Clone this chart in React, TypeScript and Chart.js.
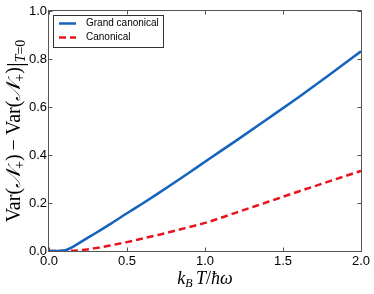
import React, { useEffect, useRef } from "react";
import { Chart, registerables } from "chart.js";

Chart.register(...registerables);

const temperatures = [0, 0.05, 0.1, 0.15, 0.2, 0.3, 0.4, 0.5, 0.6, 0.7, 0.8, 0.9, 1.0, 1.2, 1.4, 1.6, 1.8, 2.0];
const grandCanonical = [0, 0, 0.002, 0.016, 0.036, 0.075, 0.115, 0.157, 0.198, 0.24, 0.283, 0.327, 0.372, 0.46, 0.55, 0.641, 0.735, 0.832];
const canonical = [0, 0, 0, 0.001, 0.003, 0.012, 0.024, 0.037, 0.052, 0.067, 0.083, 0.1, 0.117, 0.16, 0.204, 0.248, 0.291, 0.334];
const seriesLabels = ["Grand canonical", "Canonical"];
const seriesColors = ["#1464be", "#e8141e"];
const xTicks = [0, 0.5, 1.0, 1.5, 2.0];
const yTicks = [0, 0.2, 0.4, 0.6, 0.8, 1.0];

const SERIF = "'Liberation Serif', 'DejaVu Serif', 'DejaVu Sans', serif";
const SANS = "'Liberation Sans', Arial, sans-serif";

type Piece = { t: string; font: string; dy: number };

function drawPieces(ctx: CanvasRenderingContext2D, pieces: Piece[], cx: number, baseY: number) {
  let total = 0;
  const widths = pieces.map((p) => {
    ctx.font = p.font;
    const w = ctx.measureText(p.t).width;
    total += w;
    return w;
  });
  let x = cx - total / 2;
  ctx.textBaseline = "alphabetic";
  ctx.textAlign = "left";
  pieces.forEach((p, i) => {
    ctx.font = p.font;
    ctx.fillText(p.t, x, baseY + p.dy);
    x += widths[i];
  });
}

const decor = {
  id: "decor",
  afterDraw(chart: any) {
    const { ctx, chartArea: a, scales } = chart;
    const L = Math.round(a.left) - 0.5;
    const R = Math.round(a.right) + 0.5;
    const T = Math.round(a.top) - 0.5;
    const B = Math.round(a.bottom) + 0.5;
    ctx.save();
    // ticks inward on all sides
    ctx.strokeStyle = "#555";
    ctx.lineWidth = 1;
    ctx.beginPath();
    xTicks.forEach((v) => {
      const px = Math.round(scales.x.getPixelForValue(v)) + 0.5;
      ctx.moveTo(px, B);
      ctx.lineTo(px, B - 4);
      ctx.moveTo(px, T);
      ctx.lineTo(px, T + 4);
    });
    yTicks.forEach((v) => {
      const py = Math.round(scales.y.getPixelForValue(v)) + 0.5;
      ctx.moveTo(L, py);
      ctx.lineTo(L + 4, py);
      ctx.moveTo(R, py);
      ctx.lineTo(R - 4, py);
    });
    ctx.stroke();
    // frame
    ctx.strokeStyle = "#555";
    ctx.lineWidth = 1;
    ctx.strokeRect(L, T, R - L, B - T);

    // legend
    const lx = 53.5, ly = 15.5, lw = 110, lh = 32;
    ctx.fillStyle = "#fff";
    ctx.fillRect(lx, ly, lw, lh);
    ctx.strokeStyle = "#333";
    ctx.strokeRect(lx, ly, lw, lh);
    seriesLabels.forEach((lab, i) => {
      const y = 23.5 + i * 14;
      const ds = chart.data.datasets[i];
      ctx.strokeStyle = ds.borderColor;
      ctx.lineWidth = 2.5;
      ctx.setLineDash(ds.borderDash || []);
      ctx.beginPath();
      ctx.moveTo(59, y);
      ctx.lineTo(76, y);
      ctx.stroke();
      ctx.setLineDash([]);
      ctx.fillStyle = "#000";
      ctx.font = `10px ${SANS}`;
      ctx.textAlign = "left";
      ctx.textBaseline = "middle";
      ctx.fillText(lab, 86, y);
    });

    // x axis title
    ctx.fillStyle = "#000";
    const big = `italic 18px ${SERIF}`;
    const sub = `italic 12px ${SERIF}`;
    drawPieces(
      ctx,
      [
        { t: "k", font: big, dy: 0 },
        { t: "B", font: sub, dy: 3 },
        { t: "\u2009T", font: big, dy: 0 },
        { t: "/", font: `18px ${SERIF}`, dy: 0 },
        { t: "\u0127\u03c9", font: big, dy: 0 },
      ],
      (a.left + a.right) / 2,
      284
    );

    // y axis title (rotated)
    ctx.translate(20, (a.top + a.bottom) / 2);
    ctx.rotate(-Math.PI / 2);
    const f = `20px ${SERIF}`;
    const fi = `italic 20px ${SERIF}`;
    const fs = `14px ${SERIF}`;
    const fsi = `italic 14px ${SERIF}`;
    drawPieces(
      ctx,
      [
        { t: "Var(", font: f, dy: 0 },
        { t: "\ud835\udca9", font: fi, dy: 0 },
        { t: "+", font: fs, dy: 4 },
        { t: ")\u2009\u2212\u2009Var(", font: f, dy: 0 },
        { t: "\ud835\udca9", font: fi, dy: 0 },
        { t: "+", font: fs, dy: 4 },
        { t: ")", font: f, dy: 0 },
        { t: "|", font: `24px ${SERIF}`, dy: 3 },
        { t: "T", font: fsi, dy: 5 },
        { t: "=0", font: fs, dy: 5 },
      ],
      0,
      0
    );
    ctx.restore();
  },
};

export default function App() {
  const ref = useRef<HTMLCanvasElement | null>(null);
  useEffect(() => {
    document.body.style.margin = "0";
    if (!ref.current) return;
    const chart = new Chart(ref.current, {
      type: "line",
      data: {
        datasets: [
          {
            label: seriesLabels[0],
            data: temperatures.map((t, i) => ({ x: t, y: grandCanonical[i] })),
            borderColor: seriesColors[0],
            borderWidth: 2.5,
            pointRadius: 0,
            cubicInterpolationMode: "monotone",
            fill: false,
          },
          {
            label: seriesLabels[1],
            data: temperatures.map((t, i) => ({ x: t, y: canonical[i] })),
            borderColor: seriesColors[1],
            borderWidth: 2.5,
            borderDash: [7, 4],
            pointRadius: 0,
            cubicInterpolationMode: "monotone",
            fill: false,
          },
        ],
      },
      options: {
        animation: false,
        responsive: false,
        devicePixelRatio: 1,
        layout: { padding: { top: 11, right: 13, left: 0, bottom: 0 } },
        plugins: { legend: { display: false }, tooltip: { enabled: false } },
        scales: {
          x: {
            type: "linear",
            min: 0,
            max: 2,
            grid: { display: false, drawTicks: false },
            border: { display: false },
            afterBuildTicks: (s: any) => {
              s.ticks = xTicks.map((v) => ({ value: v }));
            },
            afterFit: (s: any) => {
              s.height = 43;
            },
            ticks: {
              padding: 3,
              color: "#000",
              font: { family: SANS, size: 13 },
              maxRotation: 0,
              callback: (v: any) => Number(v).toFixed(1),
            },
          },
          y: {
            type: "linear",
            min: 0,
            max: 1,
            grid: { display: false, drawTicks: false },
            border: { display: false },
            afterBuildTicks: (s: any) => {
              s.ticks = yTicks.map((v) => ({ value: v }));
            },
            afterFit: (s: any) => {
              s.width = 49;
            },
            ticks: {
              padding: 2,
              color: "#000",
              font: { family: SANS, size: 13 },
              callback: (v: any) => Number(v).toFixed(1),
            },
          },
        },
      },
      plugins: [decor],
    } as any);
    return () => chart.destroy();
  }, []);
  return (
    <div style={{ position: "absolute", left: 0, top: 0, width: 374, height: 294 }}>
      <canvas ref={ref} width={374} height={294} />
    </div>
  );
}
